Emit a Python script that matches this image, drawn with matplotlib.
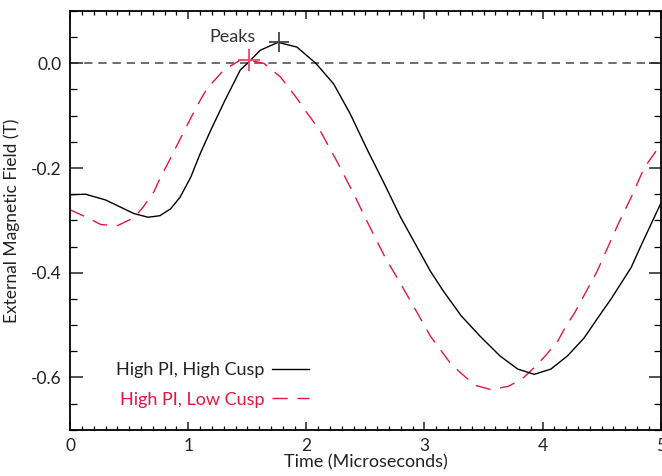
import matplotlib
matplotlib.use("Agg")
import matplotlib.pyplot as plt
from matplotlib.ticker import MultipleLocator

plt.rcParams['font.family'] = ['Lato', 'DejaVu Sans']

# High PI, High Cusp (solid black)
t_high = [0.00, 0.13, 0.30, 0.42, 0.54, 0.66, 0.76, 0.85, 0.93, 1.02, 1.10, 1.19, 1.31,
          1.44, 1.51, 1.61, 1.76, 1.92, 2.08, 2.23, 2.37, 2.52, 2.66, 2.80, 2.94, 3.05,
          3.16, 3.31, 3.47, 3.64, 3.79, 3.93, 4.07, 4.21, 4.35, 4.49, 4.58, 4.75, 4.84,
          5.00]
b_high = [-0.251, -0.250, -0.261, -0.274, -0.287, -0.294, -0.291, -0.278, -0.256, -0.218,
          -0.173, -0.128, -0.071, -0.013, 0.002, 0.025, 0.040, 0.031, 0.000, -0.039,
          -0.096, -0.167, -0.230, -0.295, -0.352, -0.397, -0.435, -0.482, -0.521, -0.559,
          -0.584, -0.594, -0.584, -0.559, -0.525, -0.479, -0.450, -0.390, -0.345, -0.268]

# High PI, Low Cusp (dashed red)
t_low = [0.00, 0.13, 0.26, 0.40, 0.54, 0.62, 0.71, 0.76, 0.83, 0.89, 0.96, 1.02, 1.10,
         1.16, 1.30, 1.44, 1.51, 1.64, 1.78, 1.92, 2.00, 2.12, 2.27, 2.40, 2.54, 2.67,
         2.77, 2.92, 3.05, 3.22, 3.32, 3.43, 3.56, 3.71, 3.83, 3.94, 4.03, 4.13, 4.19,
         4.27, 4.34, 4.46, 4.64, 4.75, 4.86, 5.00]
b_low = [-0.280, -0.293, -0.308, -0.310, -0.295, -0.274, -0.245, -0.220, -0.190, -0.163,
         -0.132, -0.105, -0.071, -0.048, -0.013, 0.006, 0.006, 0.000, -0.026, -0.067,
         -0.093, -0.130, -0.192, -0.249, -0.314, -0.372, -0.410, -0.469, -0.521, -0.573,
         -0.594, -0.615, -0.623, -0.617, -0.602, -0.579, -0.557, -0.530, -0.505, -0.477,
         -0.448, -0.398, -0.307, -0.256, -0.200, -0.155]

# peak positions
peak_t = [1.77, 1.51]
peak_b = [0.040, 0.006]

red = '#e3173e'

fig = plt.figure(figsize=(6.62, 4.76), dpi=100)
ax = fig.add_axes([0.106, 0.097, 0.892, 0.880])

ax.axhline(0, color='#555555', lw=1.2, dashes=(5, 3.5), zorder=1)
ax.plot(t_high, b_high, color='black', lw=1.0, label='High PI, High Cusp', zorder=3)
ax.plot(t_low, b_low, color=red, lw=1.0, dashes=(11, 7), label='High PI, Low Cusp', zorder=2)

ax.plot(peak_t[0], peak_b[0], marker='+', ms=15, mew=1.3, color='#444444', zorder=4)
ax.plot(peak_t[1], peak_b[1], marker='+', ms=16, mew=1.3, color='#ec4a68', zorder=4)
ax.text(1.57, 0.050, 'Peaks', ha='right', va='center', fontsize=13, color='#333333')

ax.set_xlim(0, 5)
ax.set_ylim(-0.7, 0.1)
ax.xaxis.set_major_locator(MultipleLocator(1))
ax.xaxis.set_minor_locator(MultipleLocator(0.1))
ax.yaxis.set_minor_locator(MultipleLocator(0.05))
ax.set_yticks([-0.6, -0.4, -0.2, 0.0])
ax.set_yticklabels(['-0.6', '-0.4', '-0.2', '0.0'])

ax.tick_params(axis='x', which='major', direction='in', length=6, width=1.1,
               top=True, labelsize=12.5, colors='#222222', pad=6)
ax.tick_params(axis='x', which='minor', direction='in', length=3.2, width=0.9, top=True)
ax.tick_params(axis='y', which='major', direction='in', length=9, width=1.1,
               right=True, labelsize=12.5, colors='#222222', pad=6)
ax.tick_params(axis='y', which='minor', direction='in', length=5, width=0.9, right=True)
for s in ax.spines.values():
    s.set_linewidth(1.3)

ax.set_xlabel('Time (Microseconds)', fontsize=13, color='#222222', labelpad=0)
ax.set_ylabel('External Magnetic Field (T)', fontsize=12.5, color='#222222', labelpad=8)

leg = ax.legend(loc='lower left', bbox_to_anchor=(0.05, 0.014), frameon=False,
                markerfirst=False, fontsize=13, handlelength=2.1, handletextpad=0.4,
                labelspacing=0.75, labelcolor=['#222222', red])

fig.savefig('out.png', dpi=100)
